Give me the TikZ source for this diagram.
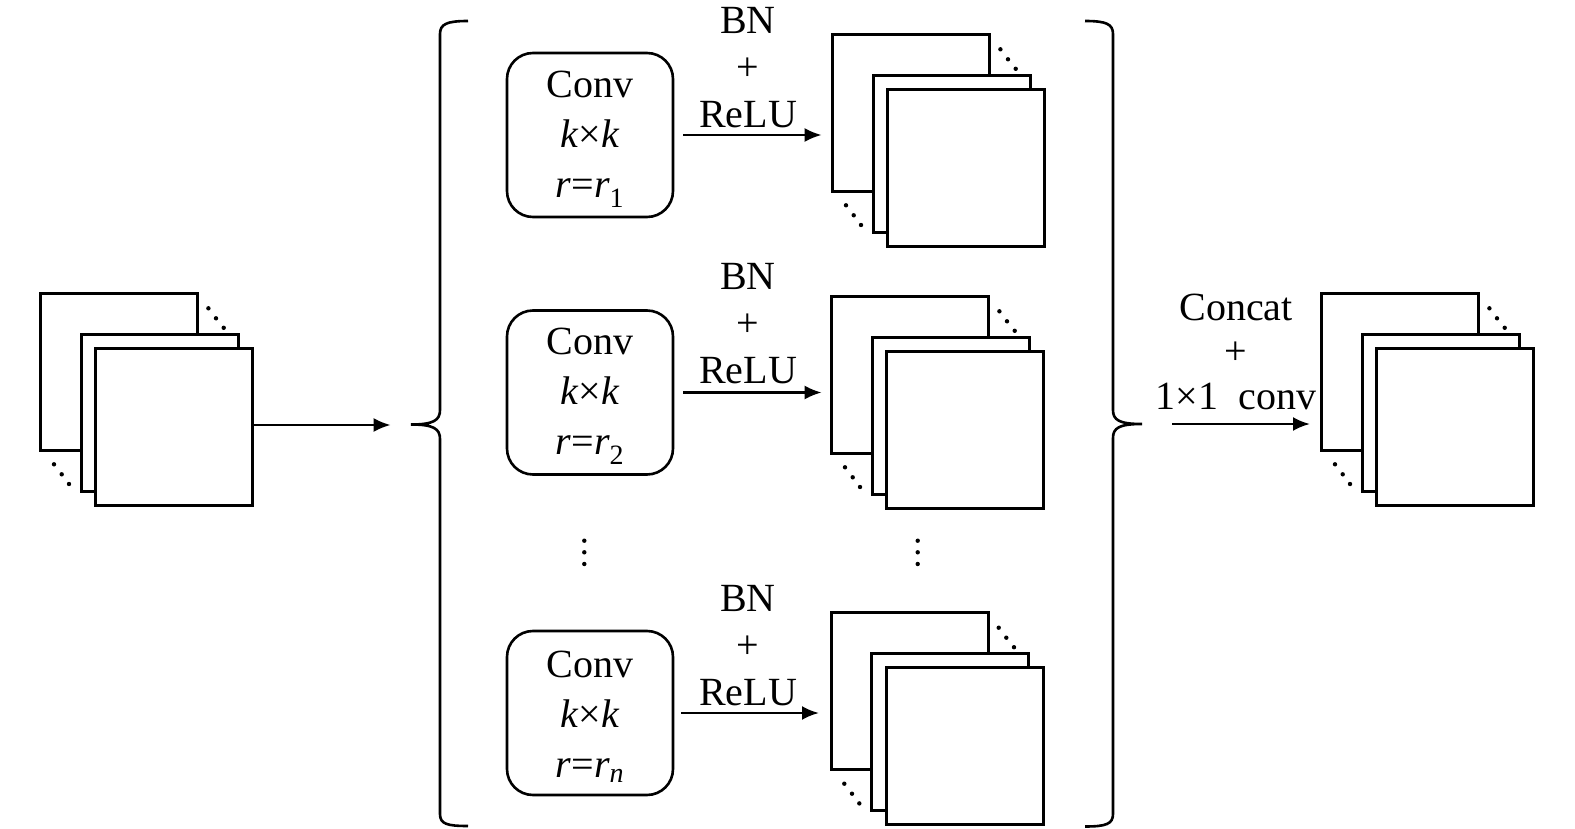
\documentclass[tikz,border=0pt]{standalone}
\usepackage{fontspec}
\setmainfont{Liberation Serif}
\usetikzlibrary{arrows.meta,calc}
\tikzset{
 fm/.style={draw=black, fill=white, line width=3pt, minimum width=157pt, minimum height=157pt, inner sep=0pt, outer sep=0pt, anchor=north west},
 convbox/.style={draw, line width=2.6pt, rounded corners=26pt, minimum width=166pt, minimum height=164pt, align=center, font=\fontsize{40}{50}\selectfont, inner sep=0pt},
 lbl/.style={align=center, font=\fontsize{40}{47}\selectfont, inner sep=0pt, anchor=south},
 arr/.style={line width=2.6pt, -{Latex[length=17pt,width=14pt]}},
 brace/.style={line width=2.6pt},
}
\newcommand\fmstack[3]{%
 \node[fm] (#1a) at (#2,#3) {};
 \fill ($(#1a.north east)+(10.7,15)$) circle (2.2pt)
       ($(#1a.north east)+(18.3,25)$) circle (2.2pt)
       ($(#1a.north east)+(26,34.5)$) circle (2.2pt);
 \fill ($(#1a.south west)+(13.3,14)$) circle (2.2pt)
       ($(#1a.south west)+(21,24)$) circle (2.2pt)
       ($(#1a.south west)+(28.3,33.7)$) circle (2.2pt);
 \node[fm] (#1b) at ($(#1a.north west)+(40.5,41)$) {};
 \node[fm] (#1c) at ($(#1a.north west)+(55,55)$) {};
}
\begin{document}
\begin{tikzpicture}[x=1pt,y=-1pt]
\useasboundingbox (0,0) rectangle (1575,829);
% input stack
\fmstack{in}{40.7}{293.3}
\coordinate (inend) at (390.7,425);
\draw[arr] (inc.east |- inend) -- (inend);
% left brace
\draw[brace] (468,21) .. controls (447,21) and (440,24) .. (440,34) -- (440,410)
  .. controls (440,420) and (434,424.5) .. (411,424.5)
  .. controls (434,424.5) and (440,429) .. (440,439) -- (440,814)
  .. controls (440,824) and (447,826) .. (468,826);
% conv boxes
\node[convbox] (c1) at (590,135) {};
\node[convbox] (c2) at (590,392.5) {};
\node[convbox] (c3) at (590,713) {};
\node[convbox, draw=none, yshift=-4pt] (c1t) at (c1) {Conv\\\textit{k}×\textit{k}\\\textit{r}=\textit{r}\textsubscript{1}};
\node[convbox, draw=none, yshift=-4pt] (c2t) at (c2) {Conv\\\textit{k}×\textit{k}\\\textit{r}=\textit{r}\textsubscript{2}};
\node[convbox, draw=none, yshift=-4pt] (c3t) at (c3) {Conv\\\textit{k}×\textit{k}\\\textit{r}=\textit{r}\textsubscript{\textit{n}}};
% stacks
\fmstack{sA}{832.7}{34.3}
\fmstack{sB}{831.7}{296.3}
\fmstack{sC}{831}{612.7}
% arrows with labels
\coordinate (t1) at (c1.east -| sAa.west);
\coordinate (t2) at (c2.east -| sBa.west);
\coordinate (t3) at (c3.east -| sCa.west);
\draw[arr] ([xshift=9pt]c1.east) -- ([xshift=-11pt]t1);
\draw[arr] ([xshift=9pt]c2.east) -- ([xshift=-10pt]t2);
\draw[arr] ([xshift=7pt]c3.east) -- ([xshift=-12pt]t3);
\node[lbl] (l1) at (748,128) {BN\\+\\ReLU};
\node[lbl] (l2) at (748,384) {BN\\+\\ReLU};
\node[lbl] (l3) at (748,706) {BN\\+\\ReLU};
% vertical dots
\fill (584.3,540.7) circle (2.2pt) (584.3,552.3) circle (2.2pt) (584.3,564) circle (2.2pt);
\fill (917.7,540.7) circle (2.2pt) (917.7,552.3) circle (2.2pt) (917.7,564) circle (2.2pt);
% right brace
\draw[brace] (1085,21) .. controls (1106,21) and (1113,24) .. (1113,34) -- (1113,410)
  .. controls (1113,420) and (1119,424) .. (1142,424)
  .. controls (1119,424) and (1113,428) .. (1113,438) -- (1113,814)
  .. controls (1113,824) and (1106,826.5) .. (1085,826.5);
% output
\fmstack{out}{1321.7}{293.3}
\coordinate (os) at (1172,424);
\coordinate (ot) at ([xshift=-11.7pt]outa.west |- os);
\draw[arr] (os) -- (ot);
\node[lbl, font=\fontsize{40}{44.5}\selectfont] (lc) at (1236,410) {Concat\\+\\1×1\ \ conv};
\end{tikzpicture}
\end{document}
